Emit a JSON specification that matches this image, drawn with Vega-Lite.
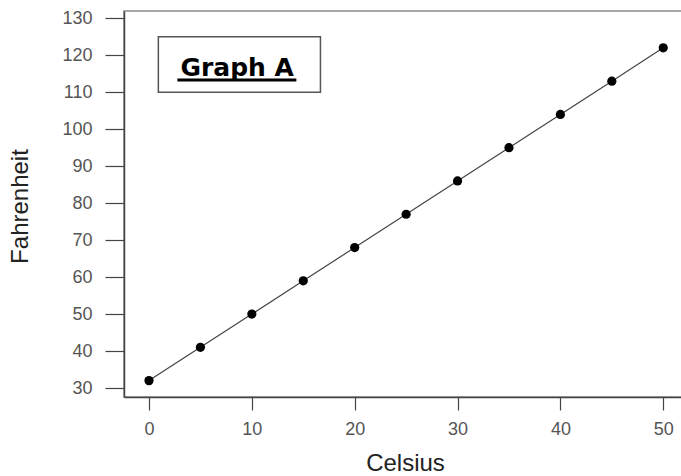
{
  "$schema": "https://vega.github.io/schema/vega-lite/v6.json",
  "width": 559,
  "height": 386,
  "autosize": "none",
  "padding": {"left": 124, "top": 11, "right": 0, "bottom": 79},
  "background": "white",
  "config": {
    "view": {"stroke": "#8a8a8a", "strokeWidth": 1.5},
    "font": "Liberation Sans"
  },
  "datasets": {
    "temps": [
      {"Celsius": 0, "Fahrenheit": 32},
      {"Celsius": 5, "Fahrenheit": 41},
      {"Celsius": 10, "Fahrenheit": 50},
      {"Celsius": 15, "Fahrenheit": 59},
      {"Celsius": 20, "Fahrenheit": 68},
      {"Celsius": 25, "Fahrenheit": 77},
      {"Celsius": 30, "Fahrenheit": 86},
      {"Celsius": 35, "Fahrenheit": 95},
      {"Celsius": 40, "Fahrenheit": 104},
      {"Celsius": 45, "Fahrenheit": 113},
      {"Celsius": 50, "Fahrenheit": 122}
    ],
    "note": [{"label": "Graph A"}]
  },
  "layer": [
    {
      "data": {"name": "temps"},
      "mark": {"type": "line", "color": "#444", "strokeWidth": 1.2},
      "encoding": {
        "x": {
          "field": "Celsius",
          "type": "quantitative",
          "scale": {"domain": [-2.43, 51.92], "nice": false, "zero": false},
          "axis": {
            "values": [0, 10, 20, 30, 40, 50],
            "labelOverlap": false,
            "grid": false,
            "domainColor": "#444",
            "domainWidth": 1.5,
            "tickColor": "#444",
            "tickSize": 13,
            "tickWidth": 1.2,
            "labelFontSize": 18,
            "labelColor": "#555",
            "labelPadding": 10,
            "labelFont": "Liberation Sans",
            "title": "Celsius",
            "titleFont": "Liberation Sans",
            "titleFontSize": 24,
            "titleFontWeight": "normal",
            "titleColor": "#222",
            "titleBaseline": "alphabetic",
            "titleX": 281,
            "titleY": 73
          }
        },
        "y": {
          "field": "Fahrenheit",
          "type": "quantitative",
          "scale": {"domain": [27.57, 131.97], "nice": false, "zero": false},
          "axis": {
            "values": [30, 40, 50, 60, 70, 80, 90, 100, 110, 120, 130],
            "labelOverlap": false,
            "grid": false,
            "domainColor": "#444",
            "domainWidth": 1.5,
            "tickColor": "#444",
            "tickSize": 19,
            "tickWidth": 1.2,
            "labelFontSize": 18,
            "labelColor": "#555",
            "labelPadding": 13,
            "labelFont": "Liberation Sans",
            "title": "Fahrenheit",
            "titleFont": "Liberation Sans",
            "titleFontSize": 24,
            "titleFontWeight": "normal",
            "titleColor": "#222",
            "titleX": -92,
            "titleY": 195
          }
        }
      }
    },
    {
      "data": {"name": "temps"},
      "mark": {"type": "circle", "color": "black", "opacity": 1, "size": 85},
      "encoding": {
        "x": {"field": "Celsius", "type": "quantitative", "axis": {"values": [0, 10, 20, 30, 40, 50], "labelOverlap": false}},
        "y": {"field": "Fahrenheit", "type": "quantitative", "axis": {"values": [30, 40, 50, 60, 70, 80, 90, 100, 110, 120, 130], "labelOverlap": false}}
      }
    },
    {
      "data": {"name": "note"},
      "mark": {"type": "rect", "fill": "white", "stroke": "#555", "strokeWidth": 1.5},
      "encoding": {
        "x": {"datum": 0.91, "type": "quantitative", "axis": {"values": [0, 10, 20, 30, 40, 50], "labelOverlap": false}},
        "x2": {"datum": 16.67},
        "y": {"datum": 110, "type": "quantitative", "axis": {"values": [30, 40, 50, 60, 70, 80, 90, 100, 110, 120, 130], "labelOverlap": false}},
        "y2": {"datum": 125.03}
      }
    },
    {
      "data": {"name": "note"},
      "mark": {"type": "rule", "color": "black", "strokeWidth": 3},
      "encoding": {
        "x": {"datum": 2.76, "type": "quantitative", "axis": {"values": [0, 10, 20, 30, 40, 50], "labelOverlap": false}},
        "x2": {"datum": 14.33},
        "y": {"datum": 113.3, "type": "quantitative", "axis": {"values": [30, 40, 50, 60, 70, 80, 90, 100, 110, 120, 130], "labelOverlap": false}}
      }
    },
    {
      "data": {"name": "note"},
      "mark": {"type": "text", "font": "DejaVu Sans", "fontWeight": "bold", "fontSize": 25, "color": "black", "align": "center", "baseline": "alphabetic"},
      "encoding": {
        "x": {"datum": 8.58, "type": "quantitative", "axis": {"values": [0, 10, 20, 30, 40, 50], "labelOverlap": false}},
        "y": {"datum": 114.4, "type": "quantitative", "axis": {"values": [30, 40, 50, 60, 70, 80, 90, 100, 110, 120, 130], "labelOverlap": false}},
        "text": {"field": "label"}
      }
    }
  ]
}
